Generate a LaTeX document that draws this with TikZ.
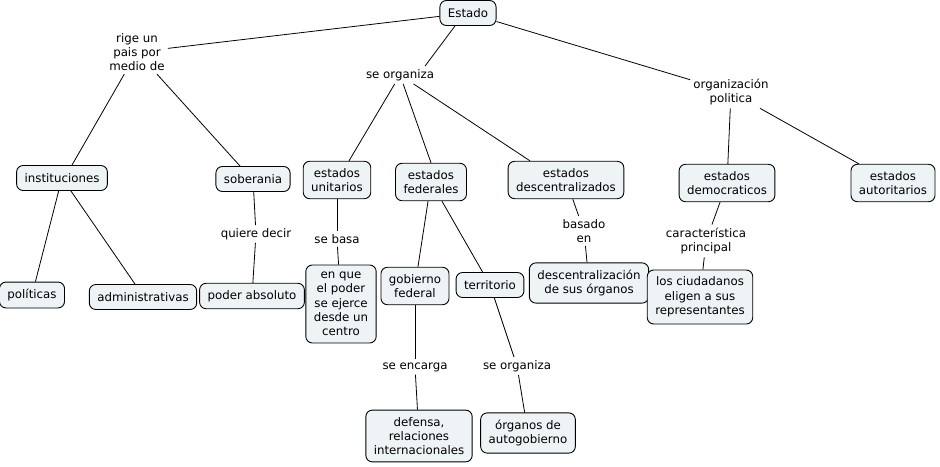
\documentclass[tikz,border=0pt]{standalone}
\usepackage{fontspec}
\setmainfont{DejaVu Sans}
\definecolor{conceptfill}{HTML}{EEF3F6}

\begin{document}
\begin{tikzpicture}[
  x=1pt, y=-1pt,
  font=\fontsize{11.8}{14.3}\selectfont,
  concept/.style={draw, line width=0.9pt, rounded corners=6.5pt, align=center, fill=conceptfill,
    inner xsep=8pt, inner ysep=7pt, minimum height=25pt},
  link/.style={align=center, inner sep=3pt},
  wire/.style={draw, line width=0.8pt}
]
\path[use as bounding box, fill=white] (0,0) rectangle (940,466);

% conceptos
\node[concept] (estado) at (468,13) {Estado};
\node[concept] (inst) at (62,178) {instituciones};
\node[concept] (sob) at (253,179) {soberania};
\node[concept] (unit) at (337,180) {estados\\unitarios};
\node[concept] (fed) at (431,182) {estados\\federales};
\node[concept] (desc) at (566,180) {estados\\descentralizados};
\node[concept] (dem) at (727,183) {estados\\democraticos};
\node[concept] (aut) at (893,183) {estados\\autoritarios};
\node[concept] (pol) at (32,295) {políticas};
\node[concept] (admin) at (143,297) {administrativas};
\node[concept] (poder) at (252,296) {poder absoluto};
\node[concept] (centro) at (341,304) {en que\\el poder\\se ejerce\\desde un\\centro};
\node[concept] (gob) at (415,286) {gobierno\\federal};
\node[concept] (terr) at (490,285) {territorio};
\node[concept] (organos) at (589,283) {descentralización\\de sus órganos};
\node[concept] (ciud) at (700,297) {los ciudadanos\\eligen a sus\\representantes};
\node[concept] (defensa) at (419,436) {defensa,\\relaciones\\internacionales};
\node[concept] (autog) at (528,433) {órganos de\\autogobierno};

% frases de enlace
\node[link] (rige) at (137,52) {rige un\\pais por\\medio de};
\node[link] (seorg) at (400,75) {se organiza};
\node[link] (orgpol) at (731,92) {organización\\politica};
\node[link] (quiere) at (256,234) {quiere decir};
\node[link] (sebasa) at (337,239) {se basa};
\node[link] (basado) at (584,231) {basado\\en};
\node[link] (caract) at (706,241) {característica\\principal};
\node[link] (seenc) at (415,367) {se encarga};
\node[link] (seorgb) at (517,366) {se organiza};

% conexiones
\draw[wire] (estado) -- (rige);
\draw[wire] ([xshift=-13pt]estado.south) -- ([xshift=25pt]seorg.north);
\draw[wire] (estado) -- (orgpol);
\draw[wire] (rige) -- ([xshift=10pt]inst.north);
\draw[wire] (rige) -- ([xshift=-13pt]sob.north);
\draw[wire] (seorg) -- ([xshift=12pt]unit.north);
\draw[wire] (seorg) -- (fed.north);
\draw[wire] (seorg) -- ([xshift=-36pt]desc.north);
\draw[wire] (orgpol) -- (dem);
\draw[wire] (orgpol) -- (aut);
\draw[wire] (inst) -- (pol);
\draw[wire] (inst) -- ([xshift=-8pt]admin.north);
\draw[wire] (sob) -- (quiere);
\draw[wire] (quiere) -- (poder);
\draw[wire] (unit) -- (sebasa);
\draw[wire] (sebasa) -- (centro);
\draw[wire] (fed) -- (gob);
\draw[wire] (fed) -- (terr);
\draw[wire] (desc) -- (basado);
\draw[wire] (basado) -- (organos);
\draw[wire] (dem) -- (caract);
\draw[wire] (caract) -- (ciud);
\draw[wire] (gob) -- (seenc);
\draw[wire] (seenc) -- (defensa);
\draw[wire] (terr) -- (seorgb);
\draw[wire] (seorgb) -- (autog);

\end{tikzpicture}
\end{document}
